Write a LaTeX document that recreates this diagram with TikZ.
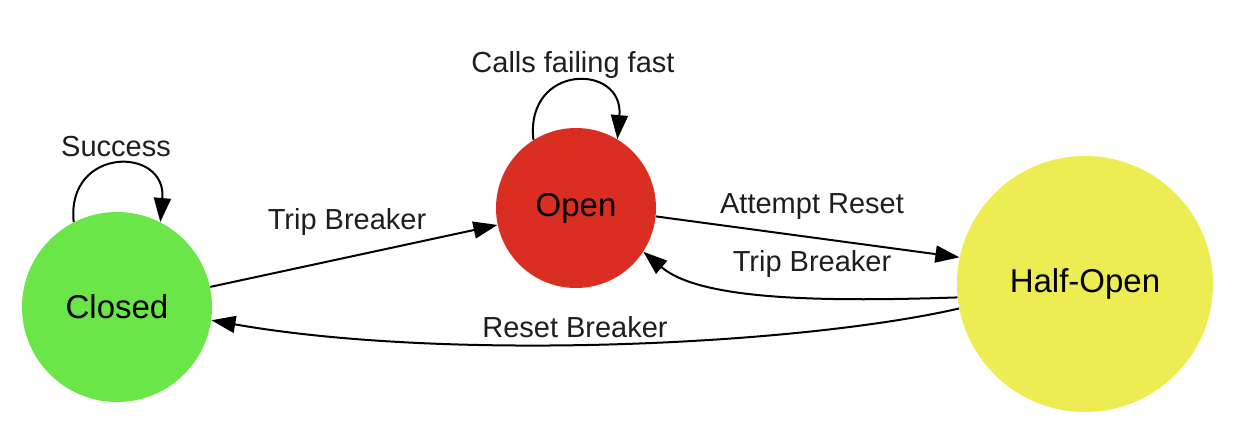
\documentclass[tikz,border=0pt]{standalone}
\usepackage{fontspec}
\setmainfont{Liberation Sans}
\usetikzlibrary{arrows.meta}
\definecolor{cgreen}{RGB}{106,230,72}
\definecolor{cred}{RGB}{218,46,34}
\definecolor{cyellow}{RGB}{237,236,83}
\definecolor{ctext}{RGB}{30,30,30}
\tikzset{
  state/.style={circle, inner sep=0pt, draw=none, text=black, font=\fontsize{16.5}{18}\selectfont},
  trans/.style={line width=1pt, -{Triangle[length=12pt,width=8.5pt]}},
  elabel/.style={text=ctext, font=\fontsize{14.5}{16}\selectfont, inner sep=0pt}
}
\begin{document}
\begin{tikzpicture}[x=0.5pt,y=-0.5pt]
\useasboundingbox (0,0) rectangle (1244,436);
\node[state, fill=cgreen, minimum size=95pt] (cl) at (117,307) {Closed};
\node[state, fill=cred, minimum size=80pt] (op) at (576,208) {Open};
\node[state, fill=cyellow, minimum size=128pt] (ho) at (1085,284) {Half-Open};

% self loops
\draw[trans] (cl.117) .. controls (66,146) and (167,146) .. (cl.63);
\node[elabel] (lsucc) at (116,147) {Success};
\draw[trans] (op.122) .. controls (525,63) and (624,63) .. (op.59);
\node[elabel] (lfail) at (573,65) {Calls failing fast};

% transitions
\draw[trans] (cl) -- (op);
\node[elabel] (ltrip1) at (347,222) {Trip Breaker};
\draw[trans] (op.-6) -- (ho.168);
\node[elabel] (latt) at (812,207) {Attempt Reset};
\draw[trans] (ho.186) .. controls (820,302) and (700,300) .. (op.-33);
\node[elabel] (ltrip2) at (812,264) {Trip Breaker};
\draw[trans] (ho.191) .. controls (800,345) and (450,362) .. (cl.-8);
\node[elabel] (lreset) at (575,327) {Reset Breaker};
\end{tikzpicture}
\end{document}
